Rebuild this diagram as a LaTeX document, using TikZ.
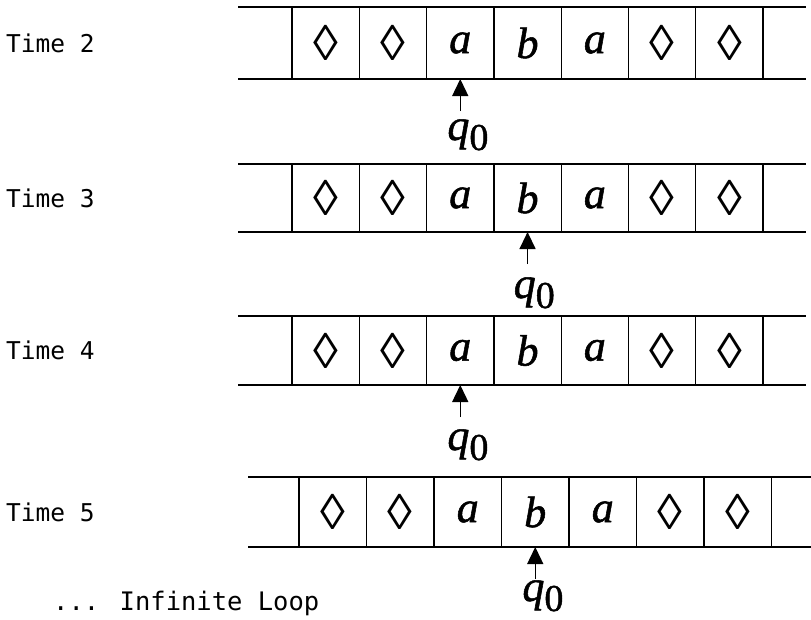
\documentclass[tikz,border=0pt]{standalone}
\usepackage{fontspec}
\setmainfont{Liberation Serif}
\newfontfamily\tmlabelfont{DejaVu Sans Mono}
\newfontfamily\tmheavy{Liberation Serif}[FakeBold=1.2]
\usetikzlibrary{arrows.meta,calc}
\newcommand\tmblank{{\rmfamily\upshape\fontsize{50}{50}\selectfont ◊}}
\newcommand\tmstate{{\tmheavy\itshape q}{\tmheavy\upshape\fontsize{38}{38}\selectfont\raisebox{-10pt}{0}}}
\newcommand\tmtape[8]{% #1 name, #2 top, #3 bottom, #4 left end, #5 first cell x, #6 cell width, #7 right end, #8 label
  \coordinate (#1L1) at (#4,#2); \coordinate (#1R1) at (#7,#2);
  \coordinate (#1L2) at (#4,#3); \coordinate (#1R2) at (#7,#3);
  \foreach \s [count=\i from 0] in {\tmblank,\tmblank,a,b,a,\tmblank,\tmblank} {
    \node[cellbox, minimum width=#6, minimum height={#3-#2}] (#1c\i) at ({#5+\i*#6},{(#2+#3)/2}) {\s};
  }
  \draw[tapeline] (#1L1) -- (#1R1);
  \draw[tapeline] (#1L2) -- (#1R2);
  \node[timelabel] (#1lab) at (6,{(#2+#3)/2}) {#8};
}
\begin{document}
\begin{tikzpicture}[x=1pt,y=-1pt,
  cellbox/.style={draw, line width=1.3pt, inner sep=0pt, outer sep=0pt, anchor=west,
    font=\tmheavy\itshape\fontsize{44}{44}\selectfont},
  tapeline/.style={line width=1.8pt},
  headarrow/.style={line width=1.4pt, -{Triangle[width=16pt,length=17pt]}},
  timelabel/.style={anchor=west, inner sep=0pt, font=\tmlabelfont\fontsize{24.5}{24.5}\selectfont},
  looplabel/.style={anchor=west, inner sep=0pt, font=\tmlabelfont\fontsize{25.5}{25.5}\selectfont},
  statelabel/.style={anchor=base west, inner sep=0pt, font=\fontsize{44}{44}\selectfont}
]
\fill[white] (0,0) rectangle (811,619);
\useasboundingbox (0,0) rectangle (811,619);

\tmtape{t1}{7}{79}{238}{292}{67.3}{806}{Time 2}
\tmtape{t2}{164}{232}{238}{292}{67.3}{806}{Time 3}
\tmtape{t3}{316}{385}{238}{292}{67.3}{806}{Time 4}
\tmtape{t4}{477}{547}{248}{299}{67.5}{811}{Time 5}

% head arrows and states
\coordinate (t1tail) at ($(t1c2.south)+(0,32)$);
\coordinate (t2tail) at ($(t2c3.south)+(0,32)$);
\coordinate (t3tail) at ($(t3c2.south)+(0,32)$);
\coordinate (t4tail) at ($(t4c3.south)+(0,32)$);
\draw[headarrow] (t1tail) -- (t1c2.south);
\draw[headarrow] (t2tail) -- (t2c3.south);
\draw[headarrow] (t3tail) -- (t3c2.south);
\draw[headarrow] (t4tail) -- (t4c3.south);

\path (t1c2.south) ++(-13,61) node[statelabel] (q1) {\tmstate};
\path (t2c3.south) ++(-14,66) node[statelabel] (q2) {\tmstate};
\path (t3c2.south) ++(-13,65) node[statelabel] (q3) {\tmstate};
\path (t4c3.south) ++(-13,54) node[statelabel] (q4) {\tmstate};

\node[looplabel] (loop) at (53,603) {... Infinite Loop};
\end{tikzpicture}
\end{document}
